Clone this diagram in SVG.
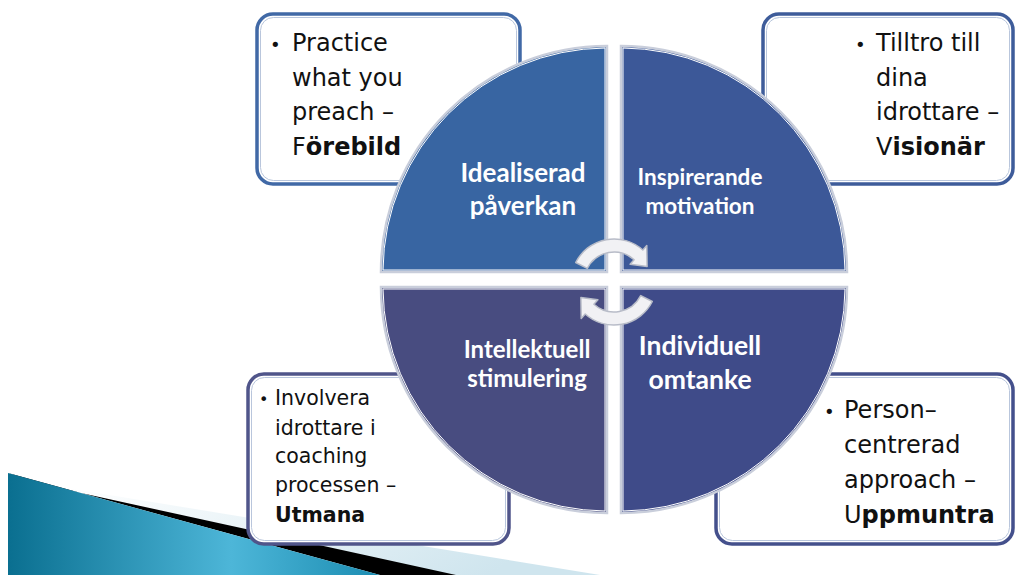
<svg xmlns="http://www.w3.org/2000/svg" width="1015" height="575" viewBox="0 0 1015 575">
<defs>
<linearGradient id="teal" x1="0" y1="0" x2="1" y2="0">
<stop offset="0" stop-color="#0A6F90"/>
<stop offset="0.6" stop-color="#4DB6D8"/>
<stop offset="1" stop-color="#1C8DB2"/>
</linearGradient>
<linearGradient id="pale" x1="0" y1="0" x2="1" y2="0.3">
<stop offset="0" stop-color="#FFFFFF"/>
<stop offset="1" stop-color="#CFE5EE"/>
</linearGradient>
<style>
.box{fill:#fff;stroke-width:3.5}
.inner{fill:none;stroke:#B9C6DC;stroke-width:1}
.txt{font-family:"DejaVu Sans",sans-serif;fill:#111}
.b{font-weight:bold}
.q{stroke:#C9CEDB;stroke-width:2.5}
.ql{stroke:#fff;stroke-width:1;fill:none}
.lbl{font-family:Lato,"Liberation Sans",sans-serif;font-weight:bold;fill:#fff;text-anchor:middle}
.arr{fill:#F1F1F4;stroke:#B8BCC8;stroke-width:1.5;stroke-linejoin:round}
</style>
</defs>
<rect width="1015" height="575" fill="#fff"/>
<g id="decor">
<polygon points="60,487 600,575 440,575" fill="url(#pale)"/>
<polygon points="8,473 40,484 456,575 380,575" fill="#000"/>
<polygon points="8,473 380,575 8,575" fill="url(#teal)"/>
</g>
<g id="box-tl">
<rect class="box" x="257" y="14" width="263" height="170" rx="16" stroke="#4169A6"/>
<rect class="inner" x="260.5" y="17.5" width="256" height="163" rx="13"/>
<text class="txt" font-size="24"><tspan x="270" y="51" font-size="18">•</tspan><tspan x="292" y="51">Practice</tspan><tspan x="292" y="86">what you</tspan><tspan x="292" y="120">preach –</tspan><tspan x="292" y="155">F<tspan class="b">örebild</tspan></tspan></text>
</g>
<g id="box-tr">
<rect class="box" x="763" y="14" width="250" height="170" rx="16" stroke="#3E5C9A"/>
<rect class="inner" x="766.5" y="17.5" width="243" height="163" rx="13"/>
<text class="txt" font-size="24"><tspan x="855" y="51" font-size="18">•</tspan><tspan x="876" y="51">Tilltro till</tspan><tspan x="876" y="86">dina</tspan><tspan x="876" y="120">idrottare –</tspan><tspan x="876" y="155">V<tspan class="b">isionär</tspan></tspan></text>
</g>
<g id="box-bl">
<rect class="box" x="248" y="374" width="261" height="170" rx="16" stroke="#50558A"/>
<rect class="inner" x="251.5" y="377.5" width="254" height="163" rx="13"/>
<text class="txt" font-size="20.5"><tspan x="259" y="405" font-size="16">•</tspan><tspan x="275" y="405">Involvera</tspan><tspan x="275" y="435">idrottare i</tspan><tspan x="275" y="463">coaching</tspan><tspan x="275" y="492">processen –</tspan><tspan x="275" y="522" class="b">Utmana</tspan></text>
</g>
<g id="box-br">
<rect class="box" x="716" y="374" width="297" height="170" rx="16" stroke="#44508C"/>
<rect class="inner" x="719.5" y="377.5" width="290" height="163" rx="13"/>
<text class="txt" font-size="24"><tspan x="824" y="418" font-size="18">•</tspan><tspan x="844" y="418">Person–</tspan><tspan x="844" y="453">centrerad</tspan><tspan x="844" y="488">approach –</tspan><tspan x="844" y="523">U<tspan class="b">ppmuntra</tspan></tspan></text>
</g>
<g id="q-tl">
<path class="q" d="M607 272 L381 272 A226 226 0 0 1 607 46 Z" fill="#3865A2"/>
<path class="ql" d="M605 270 L383 270 A224 224 0 0 1 605 48 Z"/>
<text class="lbl" font-size="26"><tspan x="523" y="182">Idealiserad</tspan><tspan x="523" y="215">påverkan</tspan></text>
</g>
<g id="q-tr">
<path class="q" d="M621 272 L621 46 A226 226 0 0 1 847 272 Z" fill="#3C5898"/>
<path class="ql" d="M623 270 L623 48 A224 224 0 0 1 845 270 Z"/>
<text class="lbl" font-size="22.5"><tspan x="700" y="185">Inspirerande</tspan><tspan x="700" y="214">motivation</tspan></text>
</g>
<g id="q-bl">
<path class="q" d="M607 287 L607 513 A226 226 0 0 1 381 287 Z" fill="#484C80"/>
<path class="ql" d="M605 289 L605 511 A224 224 0 0 1 383 289 Z"/>
<text class="lbl" font-size="24"><tspan x="527" y="358">Intellektuell</tspan><tspan x="527" y="387">stimulering</tspan></text>
</g>
<g id="q-br">
<path class="q" d="M621 287 L847 287 A226 226 0 0 1 621 513 Z" fill="#3F4B89"/>
<path class="ql" d="M623 289 L845 289 A224 224 0 0 1 623 511 Z"/>
<text class="lbl" font-size="26.5"><tspan x="700" y="355">Individuell</tspan><tspan x="700" y="389">omtanke</tspan></text>
</g>
<g id="connectors">
<path class="arr" d="M575.7 262.5 A43 43 0 0 1 642.8 250 L646.8 245.6 L647.1 266.6 L630.1 264.2 L634.1 259.7 A30 30 0 0 0 587.3 268.4 Z"/>
<path class="arr" d="M652.3 301.5 A43 43 0 0 1 585.2 314 L581.2 318.4 L580.9 297.4 L597.9 299.8 L593.9 304.3 A30 30 0 0 0 640.7 295.6 Z"/>
</g>
</svg>
